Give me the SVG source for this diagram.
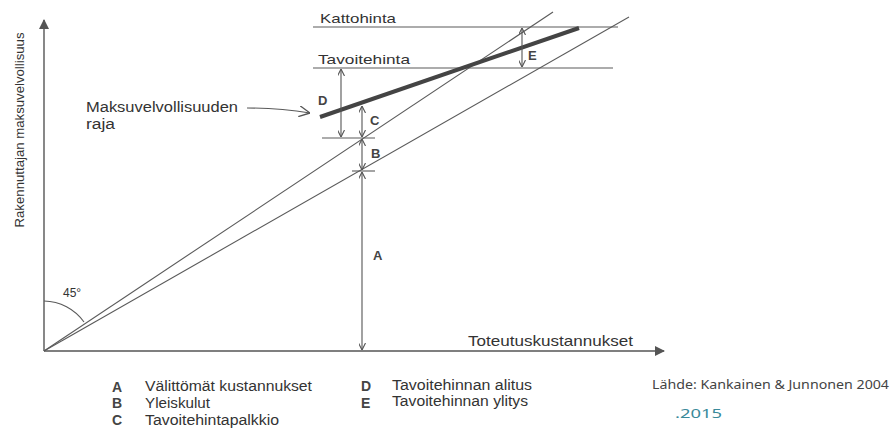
<svg xmlns="http://www.w3.org/2000/svg" width="896" height="430" viewBox="0 0 896 430">
  <style>
    .ln { stroke: #5a5a5a; stroke-width: 1.1; fill: none; }
    .ax { stroke: #555; stroke-width: 1.4; fill: none; }
    .dim { stroke: #555; stroke-width: 1.1; fill: none; marker-start: url(#tip); marker-end: url(#tip); }
    .t { font-family: "Liberation Sans", Arial, sans-serif; fill: #333; }
    .lbl { font-family: "Liberation Sans", Arial, sans-serif; font-weight: bold; fill: #444; font-size: 13px; }
    .key { font-family: "Liberation Sans", Arial, sans-serif; font-weight: bold; fill: #444; font-size: 14px; }
    .src { font-family: "Noto Sans", "DejaVu Sans", sans-serif; fill: #444; font-size: 12px; }
  </style>
  <defs>
    <marker id="tip" viewBox="0 0 10 10" refX="10" refY="5" markerWidth="7" markerHeight="7" orient="auto-start-reverse" markerUnits="userSpaceOnUse">
      <path d="M0,0 L10,5 L0,10" fill="none" stroke="#555" stroke-width="1.6"/>
    </marker>
    <marker id="solid" viewBox="0 0 10 10" refX="9" refY="5" markerWidth="12" markerHeight="10" orient="auto" markerUnits="userSpaceOnUse">
      <path d="M0,0 L10,5 L0,10 Z" fill="#555"/>
    </marker>
    <marker id="open" viewBox="0 0 10 10" refX="10" refY="5" markerWidth="11" markerHeight="11" orient="auto" markerUnits="userSpaceOnUse">
      <path d="M0,0 L10,5 L0,10" fill="none" stroke="#555" stroke-width="1.2"/>
    </marker>
  </defs>

  <!-- axes -->
  <g id="axes">
    <line class="ax" x1="44" y1="351" x2="44" y2="20" marker-end="url(#solid)"/>
    <line class="ax" x1="44" y1="351" x2="664" y2="351" marker-end="url(#solid)"/>
    <text class="t" font-size="13" transform="translate(24,130) rotate(-90)" text-anchor="middle" textLength="195" lengthAdjust="spacingAndGlyphs">Rakennuttajan maksuvelvollisuus</text>
    <text class="t" font-size="14.5" x="468" y="346" textLength="165" lengthAdjust="spacingAndGlyphs">Toteutuskustannukset</text>
  </g>

  <!-- 45 degree angle mark -->
  <g id="angle">
    <path class="ln" d="M44,301 A50,50 0 0 1 84,322"/>
    <text class="t" font-size="12" x="63" y="297">45°</text>
  </g>

  <!-- price level lines -->
  <g id="kattohinta">
    <line class="ln" x1="313" y1="27" x2="618" y2="27"/>
    <text class="t" font-size="13.5" x="320" y="23" textLength="76" lengthAdjust="spacingAndGlyphs">Kattohinta</text>
  </g>
  <g id="tavoitehinta">
    <line class="ln" x1="313" y1="68" x2="613" y2="68"/>
    <text class="t" font-size="13.5" x="318" y="64" textLength="92" lengthAdjust="spacingAndGlyphs">Tavoitehinta</text>
  </g>

  <!-- connectors: cost lines, payment limit and dimension arrows -->
  <g id="connectors">
    <line class="ln" x1="44" y1="351" x2="553" y2="12"/>
    <line class="ln" x1="44" y1="351" x2="629" y2="17"/>
    <line x1="320" y1="117" x2="579" y2="28" stroke="#444" stroke-width="4" stroke-linecap="butt"/>
    <line class="ln" x1="322" y1="138" x2="375" y2="138"/>
    <line class="ln" x1="352" y1="171" x2="375" y2="171"/>
    <line class="dim" x1="362" y1="172" x2="362" y2="350"/>
    <line class="dim" x1="362" y1="139" x2="362" y2="170"/>
    <line class="dim" x1="362" y1="106" x2="362" y2="137"/>
    <line class="dim" x1="341" y1="69" x2="341" y2="137"/>
    <line class="dim" x1="522" y1="28" x2="522" y2="67"/>
    <path d="M247,108 Q280,108 310,113" class="ln" marker-end="url(#open)"/>
  </g>

  <!-- dimension labels -->
  <g id="labels">
    <text class="lbl" x="318" y="105">D</text>
    <text class="lbl" x="370" y="125">C</text>
    <text class="lbl" x="371" y="158">B</text>
    <text class="lbl" x="373" y="260">A</text>
    <text class="lbl" x="528" y="60">E</text>
  </g>

  <g id="raja-label">
    <text class="t" font-size="14" x="86" y="112" textLength="152" lengthAdjust="spacingAndGlyphs">Maksuvelvollisuuden</text>
    <text class="t" font-size="14" x="86" y="129" textLength="29" lengthAdjust="spacingAndGlyphs">raja</text>
  </g>

  <!-- legend -->
  <g id="legend">
    <text class="key" x="112" y="392">A</text>
    <text class="t" font-size="14" x="145" y="391" textLength="167" lengthAdjust="spacingAndGlyphs">Välittömät kustannukset</text>
    <text class="key" x="112" y="408">B</text>
    <text class="t" font-size="14" x="145" y="408" textLength="65" lengthAdjust="spacingAndGlyphs">Yleiskulut</text>
    <text class="key" x="112" y="425">C</text>
    <text class="t" font-size="14" x="145" y="425" textLength="134" lengthAdjust="spacingAndGlyphs">Tavoitehintapalkkio</text>
    <text class="key" x="361" y="391">D</text>
    <text class="t" font-size="14" x="392" y="390" textLength="140" lengthAdjust="spacingAndGlyphs">Tavoitehinnan alitus</text>
    <text class="key" x="361" y="408">E</text>
    <text class="t" font-size="14" x="392" y="406" textLength="136" lengthAdjust="spacingAndGlyphs">Tavoitehinnan ylitys</text>
  </g>

  <!-- source note -->
  <g id="source">
    <text class="src" x="652" y="389" textLength="237" lengthAdjust="spacingAndGlyphs">Lähde: Kankainen &amp; Junnonen 2004</text>
    <text class="src" x="675" y="418" font-size="14" style="fill:#3a8a9a" textLength="47" lengthAdjust="spacingAndGlyphs">.2015</text>
  </g>
</svg>
